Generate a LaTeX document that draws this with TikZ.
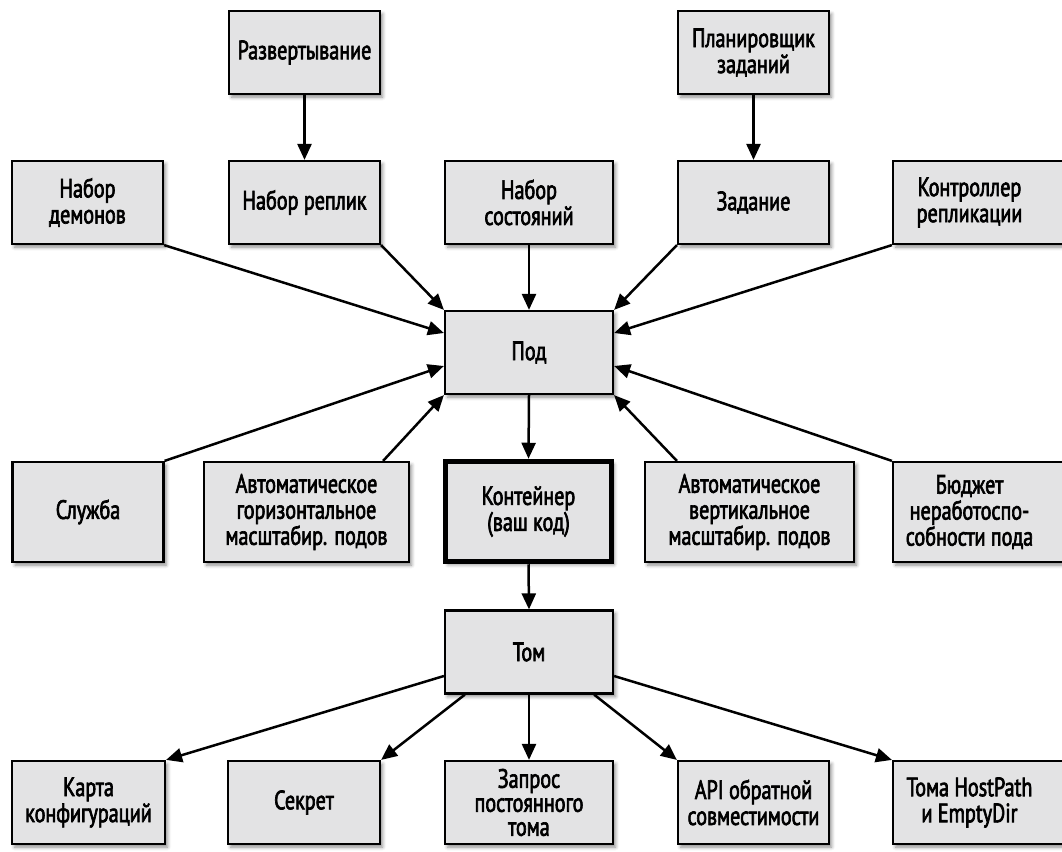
\documentclass[tikz,border=0pt]{standalone}
\usepackage{fontspec}
\setmainfont{PT Sans}[FakeStretch=0.76, FakeBold=2.5]
\usetikzlibrary{arrows.meta,shadows.blur}
\definecolor{boxfill}{RGB}{227,227,228}

\tikzset{
  objbox/.style={draw=black, line width=2.2pt, fill=boxfill, align=center,
    inner sep=2pt, minimum width=#1, minimum height=83pt,
    font=\fontsize{26.5}{28}\selectfont,
    blur shadow={shadow xshift=2.5pt, shadow yshift=-3pt,
      shadow blur radius=3.5pt, shadow opacity=45}},
  objbox/.default=151pt,
  tallbox/.style={objbox=#1, minimum height=100pt},
  edgebox/.style={objbox=175pt},
  edgetext/.style={label={[align=center, xshift=-11pt,
    font=\fontsize{26.5}{28}\selectfont]center:#1}},
  link/.style={line width=2.5pt, -{Triangle[length=16pt, width=14pt]}},
}

\begin{document}
\begin{tikzpicture}[x=1pt, y=-1pt]
\useasboundingbox (0,0) rectangle (1062,851);

% controllers that own pods
\node[objbox] (deploy)  at (304.5,52.5) {Развертывание};
\node[objbox] (cronjob) at (753.5,52.5) {Планировщик\\[-2pt]заданий};
\node[objbox] (ds)  at (87.5,202.5)  {Набор\\[-2pt]демонов};
\node[objbox] (rs)  at (304.5,202.5) {Набор реплик};
\node[objbox=168pt] (sts) at (529,202.5) {Набор\\[-2pt]состояний};
\node[objbox] (job) at (753.5,202.5) {Задание};
\node[edgebox, edgetext={Контроллер\\[-2pt]репликации}] (rc) at (980.5,202.5) {};

% the pod and its container
\node[objbox=168pt] (pod) at (529,352.5) {Под};
\node[tallbox=151pt] (svc) at (88,512) {Служба};
\node[tallbox=205pt] (hpa) at (306.5,512) {Автоматическое\\[-2pt]горизонтальное\\[-2pt]масштабир. подов};
\node[tallbox=166pt, line width=5.5pt] (ctr) at (528.5,511.5) {Контейнер\\[-2pt](ваш код)};
\node[tallbox=209pt] (vpa) at (749.5,512) {Автоматическое\\[-2pt]вертикальное\\[-2pt]масштабир. подов};
\node[tallbox=175pt, edgetext={Бюджет\\[-2pt]неработоспо-\\[-2pt]собности пода}] (pdb) at (980.5,512) {};

% volumes
\node[objbox=168pt] (vol) at (529,652) {Том};
\node[objbox=153pt] (cm)  at (88.5,802.5) {Карта\\[-2pt]конфигураций};
\node[objbox=152pt] (sec) at (304,802.5) {Секрет};
\node[objbox=168pt] (pvc) at (529,802.5) {Запрос\\[-4pt]постоянного\\[-4pt]тома};
\node[objbox=151pt] (api) at (753.5,802.5) {API обратной\\[-2pt]совместимости};
\node[edgebox, edgetext={Тома HostPath\\[-2pt]и EmptyDir}] (hp) at (980.5,802.5) {};

% ownership arrows
\draw[link] (deploy.south) -- (rs.north);
\draw[link] (cronjob.south) -- (job.north);
\draw[link] (ds.south east) -- ([yshift=19.5pt]pod.west);
\draw[link] (rs.south east) -- (pod.north west);
\draw[link] (sts.south) -- (pod.north);
\draw[link] (job.south west) -- (pod.north east);
\draw[link] (rc.south west) -- ([yshift=19.5pt]pod.east);
\draw[link] (svc.north east) -- ([yshift=-13.5pt]pod.west);
\draw[link] ([xshift=-27pt]hpa.north east) -- (pod.south west);
\draw[link] ([xshift=33pt]vpa.north west) -- (pod.south east);
\draw[link] (pdb.north west) -- ([yshift=-13.5pt]pod.east);
\draw[link] (pod.south) -- (ctr.north);
\draw[link] (ctr.south) -- (vol.north);

% volume kinds
\draw[link] ([yshift=-24pt]vol.west) -- (cm.north east);
\draw[link] ([xshift=21pt]vol.south west) -- (sec.north east);
\draw[link] (vol.south) -- (pvc.north);
\draw[link] ([xshift=-20pt]vol.south east) -- (api.north west);
\draw[link] ([yshift=-24pt]vol.east) -- (hp.north west);
\end{tikzpicture}
\end{document}
